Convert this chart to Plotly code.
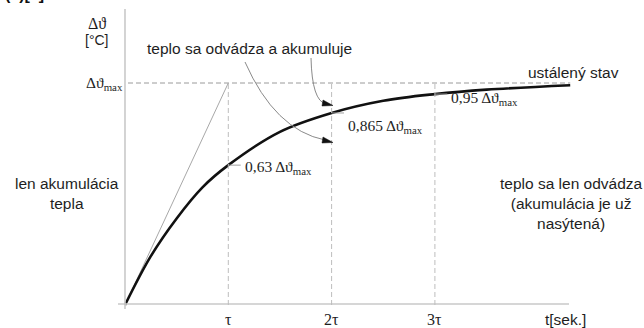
import plotly.graph_objects as go

# ---- data -------------------------------------------------------------
# heating curve: time in multiples of tau, temperature rise as fraction of max
T_CURVE = [0, 0.25, 0.5, 0.75, 1.0, 1.5, 2.0, 2.5, 3.0, 3.5, 4.31]
V_CURVE = [0, 0.22, 0.39, 0.53, 0.63, 0.78, 0.865, 0.92, 0.95, 0.97, 0.99]

# initial tangent (pure heat accumulation)
T_TANGENT = [0, 1]
V_TANGENT = [0, 1]

# characteristic instants and levels reached there
T_MARKS = [1, 2, 3]
V_MARKS = [0.63, 0.865, 0.95]
MARK_TEXT = ["0,63", "0,865", "0,95"]
TICK_TEXT = ["τ", "2τ", "3τ"]

# ---- layout helpers (pixel frame of the drawing) ----------------------
W, H = 644, 328
X0, TAU = 125, 103.3      # origin x and pixels per tau
Y0, VSPAN = 305, 222      # origin y and pixels for full rise


def tx(px):
    return (px - X0) / TAU


def vy(py):
    return (Y0 - py) / VSPAN


SANS = "Liberation Sans, Arial, sans-serif"
SERIF = "Liberation Serif, Times New Roman, serif"
INK = "#1e1e1e"
AXIS = "#c9c9c9"
DASH_H = "#9a9a9a"
DASH_V = "#bdbdbd"
ARROW = "#8a8a8a"

fig = go.Figure()

# tangent line
fig.add_trace(go.Scatter(x=T_TANGENT, y=V_TANGENT, mode="lines",
                         line=dict(color="#a8a8a8", width=1),
                         hoverinfo="skip", showlegend=False))

# heating curve
fig.add_trace(go.Scatter(x=T_CURVE, y=V_CURVE, mode="lines",
                         line=dict(color="#111111", width=2.6, shape="spline",
                                   smoothing=1.0),
                         hoverinfo="skip", showlegend=False))

shapes = []
# axes
shapes.append(dict(type="line", xref="x", yref="y", x0=0, x1=0,
                   y0=vy(309), y1=vy(9), line=dict(color=AXIS, width=1.6)))
shapes.append(dict(type="line", xref="x", yref="y", x0=tx(118), x1=tx(569),
                   y0=vy(304), y1=vy(304), line=dict(color=AXIS, width=1.6)))
# steady-state level
shapes.append(dict(type="line", xref="x", yref="y", x0=tx(128), x1=T_CURVE[-1],
                   y0=1, y1=1, line=dict(color=DASH_H, width=1, dash="5px,3px")))
# verticals at tau, 2tau, 3tau
for t in T_MARKS:
    shapes.append(dict(type="line", xref="x", yref="y", x0=t, x1=t, y0=0, y1=1,
                       line=dict(color=DASH_V, width=1, dash="5px,3px")))
# short leaders at the marked levels
for t, v in zip(T_MARKS, V_MARKS):
    shapes.append(dict(type="line", xref="x", yref="y", x0=t, x1=t + 0.12,
                       y0=v, y1=v, line=dict(color="#a0a0a0", width=1)))


def pt(p):
    return "{:.4f},{:.4f}".format(tx(p[0]), vy(p[1]))


def qpath(p0, c, p2):
    return "M {} Q {} {}".format(pt(p0), pt(c), pt(p2))


def head(tip, back_a, back_b):
    return "M {} L {} L {} Z".format(pt(tip), pt(back_a), pt(back_b))


# curved pointers from the middle caption, with filled heads
shapes.append(dict(type="path", xref="x", yref="y",
                   path=qpath((311, 58), (312, 101), (326, 104)),
                   line=dict(color=ARROW, width=1)))
shapes.append(dict(type="path", xref="x", yref="y",
                   path=qpath((245, 62), (275, 130), (325, 140)),
                   line=dict(color=ARROW, width=1)))
for tip, a, b in [((333, 105.5), (323, 100), (322, 106)),
                  ((333, 142.5), (323, 137), (322, 143))]:
    shapes.append(dict(type="path", xref="x", yref="y", path=head(tip, a, b),
                       fillcolor="#111111", line=dict(color="#111111", width=0.5)))

ann = []


def text(x, y, s, font=SANS, size=15.5, xanchor="center", yanchor="middle",
         align="center", **kw):
    ann.append(dict(x=x, y=y, xref="x", yref="y", text=s, showarrow=False,
                    font=dict(family=font, size=size, color=INK),
                    xanchor=xanchor, yanchor=yanchor, align=align, **kw))


# y-axis title
text(tx(97), vy(23), "Δϑ", font=SERIF, size=16)
text(tx(97), vy(40), "[°C]", size=14)
text(tx(104), 1, "Δϑ<sub>max</sub>", font=SERIF, size=15.5)

# x-axis ticks and title
for t, s in zip(T_MARKS, TICK_TEXT):
    text(t, vy(319), s, font=SERIF, size=16)
text(tx(565), vy(319), "t[sek.]", size=15.5)

# level labels
for t, v, s, dy in zip(T_MARKS, V_MARKS, MARK_TEXT, [-2, -14, -4]):
    text(t + 0.14, v, s + " Δϑ<sub>max</sub>", font=SERIF, size=15.5,
         xanchor="left", yshift=dy)

# captions
text(tx(249), vy(48), "teplo sa odvádza a akumuluje")
text(tx(573), vy(72), "ustálený stav")
text(tx(67), vy(193), "len akumulácia<br>tepla")
text(tx(571), vy(203), "teplo sa len odvádza<br>(akumulácia je už<br>nasýtená)")

# cut-off heading above the drawing
ann.append(dict(x=0.004, y=1, xref="paper", yref="paper", text="<b>(1)[2]</b>",
                showarrow=False, xanchor="left", yanchor="middle", yshift=6,
                font=dict(family=SANS, size=16, color="#111111")))

fig.update_layout(
    width=W, height=H,
    margin=dict(l=0, r=0, t=0, b=0),
    paper_bgcolor="white", plot_bgcolor="white",
    xaxis=dict(range=[tx(0), tx(W)], visible=False, fixedrange=True),
    yaxis=dict(range=[vy(H), vy(0)], visible=False, fixedrange=True),
    shapes=shapes, annotations=ann, showlegend=False,
)

fig.write_html("out.html")
